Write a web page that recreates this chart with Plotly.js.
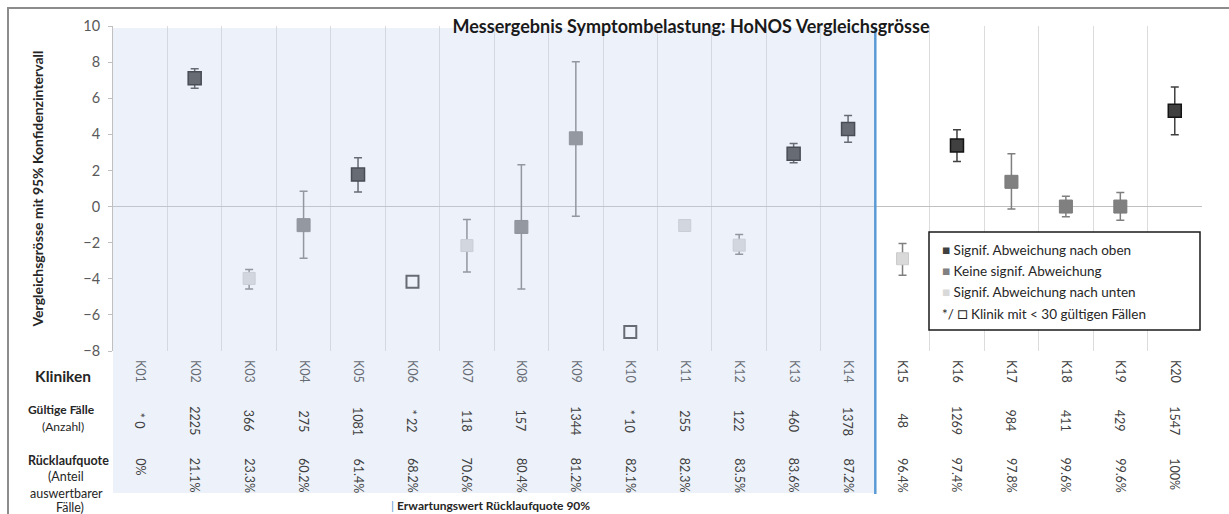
<!DOCTYPE html>
<html>
<head>
<meta charset="utf-8">
<script src="https://cdn.plot.ly/plotly-3.0.1.min.js"></script>
<style>html,body{margin:0;padding:0;background:#fff;}#chart{width:1229px;height:514px;}</style>
</head>
<body>
<div id="chart"></div>
<script>
// ---- Data ----
const categories = ['K01','K02','K03','K04','K05','K06','K07','K08','K09','K10','K11','K12','K13','K14','K15','K16','K17','K18','K19','K20'];
const values   = [null, 7.10, -3.98, -1.03, 1.77, -4.17, -2.16, -1.13, 3.78, -6.95, -1.05, -2.14, 2.93, 4.30, -2.89, 3.38, 1.37, 0.00, 0.00, 5.30];
const ciLower  = [null, 6.55, -4.56, -2.86, 0.81, null, -3.62, -4.56, -0.53, null, null, -2.64, 2.42, 3.56, -3.80, 2.50, -0.13, -0.57, -0.76, 3.98];
const ciUpper  = [null, 7.63, -3.49, 0.85, 2.71, null, -0.72, 2.32, 8.02, null, null, -1.55, 3.49, 5.04, -2.05, 4.26, 2.92, 0.57, 0.78, 6.62];
const status   = ['klein','oben','unten','keine','oben','klein','unten','keine','keine','klein','unten','unten','oben','oben','unten','oben','keine','keine','keine','oben'];
const validCases = ['* 0','2225','366','275','1081','* 22','118','157','1344','* 10','255','122','460','1378','48','1269','984','411','429','1547'];
const returnRates = ['0%','21.1%','23.3%','60.2%','61.4%','68.2%','70.6%','80.4%','81.2%','82.1%','82.3%','83.5%','83.6%','87.2%','96.4%','97.4%','97.8%','99.6%','99.6%','100%'];
const statusKeys = ['oben','keine','unten','klein'];
const legendLabels = ['Signif. Abweichung nach oben','Keine signif. Abweichung','Signif. Abweichung nach unten','Klinik mit &lt; 30 gültigen Fällen'];
const firstAboveTarget = 'K15';
const chartTitle = 'Messergebnis Symptombelastung: HoNOS Vergleichsgrösse';
const yTitle = 'Vergleichsgrösse mit 95% Konfidenzintervall';

// ---- Styles ----
const FONT = 'Lato, "Liberation Sans", sans-serif';
const styles = {
  oben:  {symbol:'square', color:'#404040', line:{color:'#141414', width:1.5}, size:13, err:'#404040'},
  keine: {symbol:'square', color:'#808080', line:{color:'#7a7a7a', width:1}, size:13, err:'#7f7f7f'},
  unten: {symbol:'square', color:'#d9d9d9', line:{color:'#cccccc', width:1}, size:12, err:'#7f7f7f'},
  klein: {symbol:'square-open', color:'#404040', line:{width:2}, size:12, err:null}
};
const legendColors = {oben:'#404040', keine:'#808080', unten:'#d9d9d9'};

const traces = statusKeys.map(s => {
  const idx = categories.map((c,i)=>i).filter(i => status[i]===s && values[i]!==null);
  const st = styles[s];
  const t = {
    type:'scatter', mode:'markers', name:s, showlegend:false, cliponaxis:false,
    x: idx.map(i=>categories[i]),
    y: idx.map(i=>values[i]),
    marker:{symbol:st.symbol, color:st.color, size:st.size, line:st.line}
  };
  if (st.err) {
    t.error_y = {
      type:'data', symmetric:false, color:st.err, thickness:1.5, width:4,
      array: idx.map(i => ciUpper[i]===null ? NaN : ciUpper[i]-values[i]),
      arrayminus: idx.map(i => ciLower[i]===null ? NaN : values[i]-ciLower[i])
    };
  }
  return t;
});

// geometry helpers (paper coordinates)
const L = 113, R = 27, T = 26, B = 163, W = 1229, H = 514;
const pw = W - L - R, ph = H - T - B;
const px = v => (v - L) / pw;
const py = v => (H - B - v) / ph;
const n = categories.length;
const boundary = categories.indexOf(firstAboveTarget) / n;

const shapes = [
  // outer frame (left and top edges visible)
  {type:'rect', xref:'paper', yref:'paper', x0:px(8), x1:px(1300), y0:py(560), y1:py(8), line:{color:'#8c8c8c', width:2}, fillcolor:'rgba(0,0,0,0)', layer:'above'},
  // shaded region (clinics below expected return rate)
  {type:'rect', xref:'paper', yref:'paper', x0:0, x1:boundary, y0:py(493), y1:py(28), line:{width:0}, fillcolor:'rgba(195,212,238,0.30)', layer:'above'},
  // expected value line
  {type:'line', xref:'paper', yref:'paper', x0:boundary, x1:boundary, y0:py(494), y1:py(28), line:{color:'#5b9bd5', width:2.5}, layer:'above'},
  // legend box
  {type:'rect', xref:'paper', yref:'paper', x0:px(929), x1:px(1200), y0:py(330), y1:py(232), line:{color:'#1a1a1a', width:1.5}, fillcolor:'#ffffff', layer:'above'}
];

const annotations = [];
const txtColor = '#404040';
categories.forEach((c,i) => {
  annotations.push({xref:'x', yref:'paper', x:c, y:py(421), text:validCases[i], showarrow:false, textangle:90, xanchor:'center', yanchor:'middle', font:{family:FONT, size:12.5, color:txtColor}});
  annotations.push({xref:'x', yref:'paper', x:c, y:py(456), text:returnRates[i], showarrow:false, textangle:90, xanchor:'center', yanchor:'top', font:{family:FONT, size:12.5, color:txtColor}});
});
const rowLabel = (text, x, y, size, bold) => annotations.push({xref:'paper', yref:'paper', x:px(x), y:py(y), text: bold ? '<b>'+text+'</b>' : text, showarrow:false, xanchor:'center', yanchor:'middle', font:{family:FONT, size:size, color:'#262626'}});
rowLabel('Kliniken', 63, 376, 15.5, true);
rowLabel('Gültige Fälle', 61, 410, 12, true);
rowLabel('(Anzahl)', 63, 426, 12, false);
rowLabel('Rücklaufquote', 68, 460, 12.5, true);
rowLabel('(Anteil', 66, 476, 12.5, false);
rowLabel('auswertbarer', 66, 493, 12.5, false);
rowLabel('Fälle)', 70, 508, 12.5, false);
annotations.push({xref:'paper', yref:'paper', x:px(389), y:py(505), xanchor:'left', yanchor:'middle', showarrow:false,
  text:'<span style="color:#5b9bd5">|</span> <b>Erwartungswert Rücklaufquote 90%</b>', font:{family:FONT, size:12, color:'#262626'}});
// legend entries
const legendY = [250, 271, 292, 312];
statusKeys.forEach((s,k) => {
  const mark = s==='klein' ? '*/ <span style="font-size:17px">□</span> ' : '<span style="color:'+legendColors[s]+'">■</span> ';
  annotations.push({xref:'paper', yref:'paper', x:px(940), y:py(legendY[k]), xanchor:'left', yanchor:'middle', showarrow:false,
    text: mark + legendLabels[k], font:{family:FONT, size:13.5, color:'#262626'}});
});

const layout = {
  width:W, height:H,
  margin:{l:L, r:R, t:T, b:B, pad:0},
  paper_bgcolor:'#ffffff', plot_bgcolor:'#ffffff',
  font:{family:FONT, color:'#404040'},
  title:{text:'<b>'+chartTitle+'</b>', x:px(691), xanchor:'center', xref:'paper', y:1-27/H, yref:'container', yanchor:'middle', font:{family:FONT, size:18, color:'#1a1a1a'}},
  xaxis:{type:'category', categoryorder:'array', categoryarray:categories, range:[-0.5, n-0.5],
    tickangle:90, tickson:'boundaries', showgrid:true, gridcolor:'#dcdcdc', gridwidth:1, ticks:'', showline:false, zeroline:false,
    tickfont:{family:FONT, size:12.5, color:txtColor}, ticklabelstandoff:8, fixedrange:true},
  yaxis:{range:[-8,10], dtick:2, tick0:0, showgrid:false, zeroline:true, zerolinecolor:'#c0c0c0', zerolinewidth:1.5,
    showline:true, linecolor:'#c0c0c0', linewidth:1, ticks:'outside', ticklen:4, tickcolor:'#c0c0c0',
    tickfont:{family:FONT, size:14.5, color:'#595959'}, ticklabelstandoff:5,
    title:{text:'<b>'+yTitle+'</b>', standoff:36, font:{family:FONT, size:14, color:'#262626'}}, fixedrange:true},
  shapes:shapes,
  annotations:annotations,
  showlegend:false
};

Plotly.newPlot('chart', traces, layout, {displayModeBar:false, staticPlot:true});
</script>
</body>
</html>
